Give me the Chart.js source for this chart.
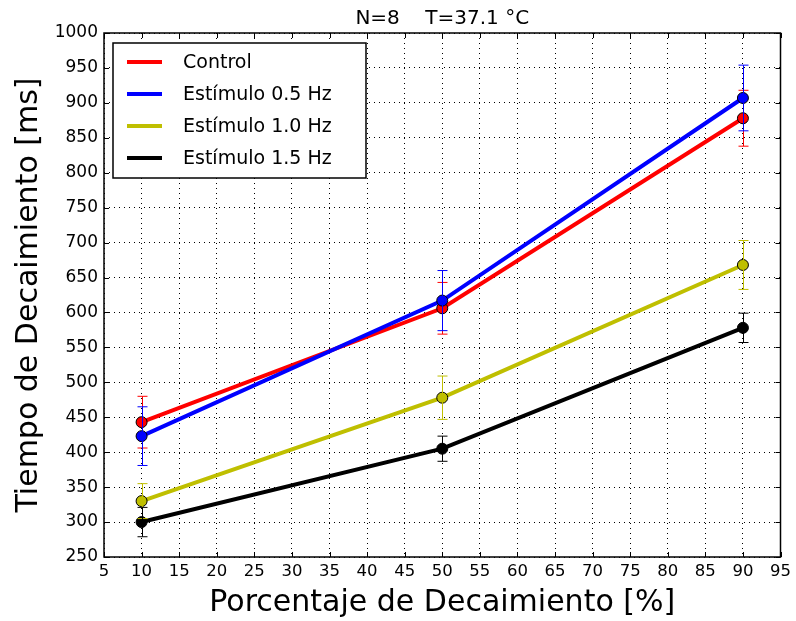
<!DOCTYPE html>
<html>
<head>
<meta charset="utf-8">
<script src="https://cdn.jsdelivr.net/npm/chart.js@4/dist/chart.umd.min.js"></script>
<style>
  html, body { margin: 0; padding: 0; background: #fff; }
  #wrap { width: 796px; height: 621px; }
</style>
</head>
<body>
<div id="wrap"><canvas id="c"></canvas></div>
<script>
// data
const porcentajes = [10, 50, 90];
const seriesNames = ['Control', 'Estímulo 0.5 Hz', 'Estímulo 1.0 Hz', 'Estímulo 1.5 Hz'];
const control = [443, 606, 878];
const control_err = [37, 37, 40];
const est05 = [423, 617, 907];
const est05_err = [42, 43, 47];
const est10 = [330, 478, 668];
const est10_err = [25, 31, 35];
const est15 = [300, 405, 578];
const est15_err = [21, 18, 21];
const colores = ['#ff0000', '#0000ff', '#bfbf00', '#000000'];
const xTicks = [5, 95, 5];      // min, max, step
const yTicks = [250, 1000, 50];

const fuente = '"DejaVu Sans", sans-serif';

const allValues = [control, est05, est10, est15];
const allErr = [control_err, est05_err, est10_err, est15_err];

const datasets = allValues.map((vals, i) => ({
    label: seriesNames[i],
    data: vals.map((v, j) => ({ x: porcentajes[j], y: v })),
    borderColor: colores[i],
    backgroundColor: colores[i],
    borderWidth: 4,
    pointRadius: 5.5,
    pointBackgroundColor: colores[i],
    pointBorderColor: '#000',
    pointBorderWidth: 1,
    order: 4 - i,
    errores: allErr[i]
}));

// error bars, inward ticks, frame, title and legend
const extras = {
    id: 'extras',
    afterDatasetsDraw(chart) {
        const ctx = chart.ctx;
        const xs = chart.scales.x, ys = chart.scales.y;
        ctx.save();
        chart.data.datasets.forEach((ds) => {
            ctx.strokeStyle = ds.borderColor;
            ctx.lineWidth = 1;
            ds.data.forEach((p, j) => {
                const e = ds.errores[j];
                const px = Math.round(xs.getPixelForValue(p.x)) + 0.5;
                const top = ys.getPixelForValue(p.y + e);
                const bot = ys.getPixelForValue(p.y - e);
                ctx.beginPath();
                ctx.moveTo(px, top); ctx.lineTo(px, bot);
                ctx.moveTo(px - 5, top); ctx.lineTo(px + 5, top);
                ctx.moveTo(px - 5, bot); ctx.lineTo(px + 5, bot);
                ctx.stroke();
            });
        });
        ctx.restore();
    },
    afterDraw(chart) {
        const ctx = chart.ctx;
        const a = chart.chartArea;
        const xs = chart.scales.x, ys = chart.scales.y;
        ctx.save();
        // ticks pointing inwards on all four sides
        ctx.strokeStyle = '#000';
        ctx.lineWidth = 1;
        ctx.beginPath();
        xs.ticks.forEach(t => {
            const px = Math.round(xs.getPixelForValue(t.value)) + 0.5;
            ctx.moveTo(px, a.bottom); ctx.lineTo(px, a.bottom - 5);
            ctx.moveTo(px, a.top); ctx.lineTo(px, a.top + 5);
        });
        ys.ticks.forEach(t => {
            const py = Math.round(ys.getPixelForValue(t.value)) + 0.5;
            ctx.moveTo(a.left, py); ctx.lineTo(a.left + 5, py);
            ctx.moveTo(a.right, py); ctx.lineTo(a.right - 5, py);
        });
        ctx.stroke();
        // frame
        ctx.lineWidth = 1.5;
        ctx.strokeRect(a.left, a.top, a.right - a.left, a.bottom - a.top);

        // title
        ctx.fillStyle = '#000';
        ctx.font = '20px ' + fuente;
        ctx.textAlign = 'center';
        ctx.textBaseline = 'middle';
        ctx.fillText('N=8    T=37.1 °C', (a.left + a.right) / 2, 19);

        // legend box in the upper left corner
        const lx = a.left + 9, ly = a.top + 10, lw = 253, lh = 135;
        ctx.fillStyle = '#fff';
        ctx.fillRect(lx, ly, lw, lh);
        ctx.strokeStyle = '#000';
        ctx.lineWidth = 1.5;
        ctx.strokeRect(lx, ly, lw, lh);
        ctx.font = '19px ' + fuente;
        ctx.textAlign = 'left';
        chart.data.datasets.forEach((ds, i) => {
            const cy = ly + 19 + i * 32;
            ctx.strokeStyle = ds.borderColor;
            ctx.lineWidth = 4;
            ctx.beginPath();
            ctx.moveTo(lx + 14, cy); ctx.lineTo(lx + 49, cy);
            ctx.stroke();
            ctx.fillStyle = '#000';
            ctx.fillText(ds.label, lx + 70, cy + 1);
        });
        ctx.restore();
    }
};

new Chart(document.getElementById('c'), {
    type: 'line',
    data: { datasets: datasets },
    options: {
        responsive: true,
        maintainAspectRatio: false,
        animation: false,
        layout: { padding: { top: 33, right: 13, left: 0, bottom: 0 } },
        plugins: { legend: { display: false }, tooltip: { enabled: false } },
        scales: {
            x: {
                type: 'linear',
                min: xTicks[0], max: xTicks[1],
                ticks: { stepSize: xTicks[2], color: '#000', padding: 5, maxRotation: 0,
                         font: { family: fuente, size: 16.5 } },
                grid: { color: '#000', lineWidth: 1, drawTicks: false },
                border: { display: false, dash: [1, 4] },
                title: { display: true, text: 'Porcentaje de Decaimiento [%]', color: '#000',
                         font: { family: fuente, size: 30 }, padding: { top: 0, bottom: 0 } },
                afterFit(scale) { scale.height = 64; }
            },
            y: {
                type: 'linear',
                min: yTicks[0], max: yTicks[1],
                ticks: { stepSize: yTicks[2], color: '#000', padding: 6,
                         font: { family: fuente, size: 17 },
                         callback: v => String(v) },
                grid: { color: '#000', lineWidth: 1, drawTicks: false },
                border: { display: false, dash: [1, 4] },
                title: { display: true, text: 'Tiempo de Decaimiento [ms]', color: '#000',
                         font: { family: fuente, size: 30 }, padding: { top: 11, bottom: 0 } },
                afterFit(scale) { scale.width = 104; }
            }
        }
    },
    plugins: [extras]
});
</script>
</body>
</html>
